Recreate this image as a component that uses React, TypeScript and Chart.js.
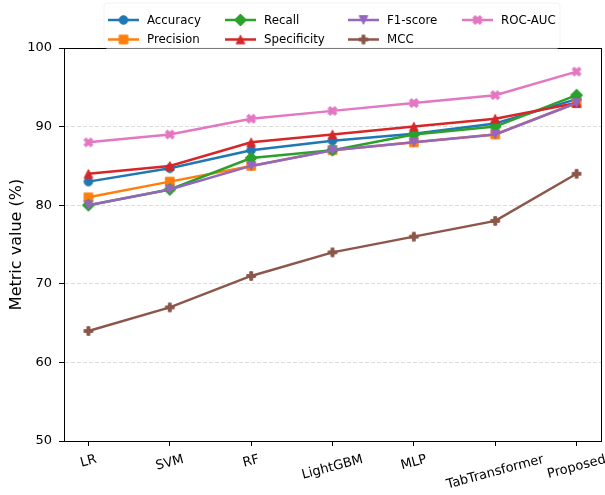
import React, { useEffect, useRef } from "react";
import { Chart, registerables } from "chart.js";

Chart.register(...registerables);

// ---- data ----
const categories = ["LR", "SVM", "RF", "LightGBM", "MLP", "TabTransformer", "Proposed"];
const accuracy = [83, 84.7, 87, 88.2, 89.1, 90.4, 93.5];
const precision = [81, 83, 85, 87, 88, 89, 93];
const recall = [80, 82, 86, 87, 89, 90, 94];
const specificity = [84, 85, 88, 89, 90, 91, 93];
const f1score = [80, 82, 85, 87, 88, 89, 93];
const mcc = [64, 67, 71, 74, 76, 78, 84];
const rocauc = [88, 89, 91, 92, 93, 94, 97];
const seriesNames = ["Accuracy", "Precision", "Recall", "Specificity", "F1-score", "MCC", "ROC-AUC"];
const yTickValues = [50, 60, 70, 80, 90, 100];
const yAxisTitle = "Metric value (%)";

// ---- styles ----
const seriesValues = [accuracy, precision, recall, specificity, f1score, mcc, rocauc];
const colors = ["#1f77b4", "#ff7f0e", "#2ca02c", "#d62728", "#9467bd", "#8c564b", "#e377c2"];
const markers = ["o", "s", "D", "^", "v", "P", "X"];
const FONT = "'DejaVu Sans', sans-serif";

function makeMarker(shape: string, color: string): HTMLCanvasElement {
  const S = 20;
  const c = document.createElement("canvas");
  c.width = S;
  c.height = S;
  const g = c.getContext("2d")!;
  g.translate(S / 2, S / 2);
  const m = 8.6;
  const h = m / 2;
  g.beginPath();
  const plus = (a: number, b: number) => {
    const pts = [
      [b, -a], [b, -b], [a, -b], [a, b], [b, b], [b, a],
      [-b, a], [-b, b], [-a, b], [-a, -b], [-b, -b], [-b, -a],
    ];
    pts.forEach((p, i) => (i === 0 ? g.moveTo(p[0], p[1]) : g.lineTo(p[0], p[1])));
    g.closePath();
  };
  switch (shape) {
    case "o":
      g.arc(0, 0, h, 0, Math.PI * 2);
      break;
    case "s":
      g.rect(-h, -h, m, m);
      break;
    case "D": {
      const d = h * Math.SQRT2;
      g.moveTo(0, -d);
      g.lineTo(d, 0);
      g.lineTo(0, d);
      g.lineTo(-d, 0);
      g.closePath();
      break;
    }
    case "^":
      g.moveTo(0, -h);
      g.lineTo(h, h);
      g.lineTo(-h, h);
      g.closePath();
      break;
    case "v":
      g.moveTo(0, h);
      g.lineTo(h, -h);
      g.lineTo(-h, -h);
      g.closePath();
      break;
    case "P":
      plus(h, m / 6);
      break;
    case "X":
      g.rotate(Math.PI / 4);
      plus(h * 1.1, m / 6);
      break;
  }
  g.fillStyle = color;
  g.fill();
  g.strokeStyle = color;
  g.lineWidth = 1;
  g.stroke();
  return c;
}

export default function App() {
  const ref = useRef<HTMLCanvasElement | null>(null);

  useEffect(() => {
    const canvas = ref.current;
    if (!canvas) return;
    const markerImgs = markers.map((mk, i) => makeMarker(mk, colors[i]));

    const datasets = seriesNames.map((name, i) => ({
      label: name,
      data: seriesValues[i].map((v, j) => ({ x: j, y: v })),
      borderColor: colors[i],
      backgroundColor: colors[i],
      borderWidth: 2.5,
      pointStyle: markerImgs[i] as any,
      pointRadius: 5,
      pointHoverRadius: 5,
      tension: 0,
      order: seriesNames.length - i,
    }));

    const decorPlugin = {
      id: "decor",
      afterDraw(chart: any) {
        const ctx = chart.ctx as CanvasRenderingContext2D;
        const a = chart.chartArea;
        const xs = chart.scales.x;
        ctx.save();
        // spines
        ctx.strokeStyle = "#000";
        ctx.lineWidth = 1;
        ctx.strokeRect(Math.round(a.left) + 0.5, Math.round(a.top) + 0.5, Math.round(a.right - a.left), Math.round(a.bottom - a.top));

        // x tick labels rotated 15°, centered on tick
        ctx.fillStyle = "#000";
        ctx.font = `13px ${FONT}`;
        ctx.textAlign = "center";
        ctx.textBaseline = "middle";
        const rot = (15 * Math.PI) / 180;
        const lh = 15;
        xs.ticks.forEach((t: any) => {
          const idx = Math.round(t.value);
          const label = categories[idx];
          if (label === undefined) return;
          const x = xs.getPixelForValue(t.value);
          const w = ctx.measureText(label).width;
          const H = w * Math.sin(rot) + lh * Math.cos(rot);
          const cy = a.bottom + 11 + H / 2;
          ctx.save();
          ctx.translate(x, cy);
          ctx.rotate(-rot);
          ctx.fillText(label, 0, 0);
          ctx.restore();
        });

        // legend box
        const bx = 104, by = 3, bw = 456, bh = 45;
        ctx.fillStyle = "rgba(255,255,255,0.97)";
        ctx.strokeStyle = "#f2f2f2";
        ctx.lineWidth = 1;
        ctx.beginPath();
        const r = 3;
        ctx.moveTo(bx + r, by);
        ctx.lineTo(bx + bw - r, by);
        ctx.quadraticCurveTo(bx + bw, by, bx + bw, by + r);
        ctx.lineTo(bx + bw, by + bh - r);
        ctx.quadraticCurveTo(bx + bw, by + bh, bx + bw - r, by + bh);
        ctx.lineTo(bx + r, by + bh);
        ctx.quadraticCurveTo(bx, by + bh, bx, by + bh - r);
        ctx.lineTo(bx, by + r);
        ctx.quadraticCurveTo(bx, by, bx + r, by);
        ctx.closePath();
        ctx.fill();
        ctx.stroke();

        const colX = [108, 225, 348, 462];
        const rowY = [20, 39.5];
        ctx.font = `11.8px ${FONT}`;
        ctx.textAlign = "left";
        ctx.textBaseline = "middle";
        seriesNames.forEach((name, i) => {
          const col = Math.floor(i / 2);
          const row = i % 2;
          const x0 = colX[col];
          const y0 = rowY[row];
          ctx.strokeStyle = colors[i];
          ctx.lineWidth = 2.5;
          ctx.beginPath();
          ctx.moveTo(x0, y0);
          ctx.lineTo(x0 + 31, y0);
          ctx.stroke();
          const img = markerImgs[i];
          ctx.drawImage(img, x0 + 15.5 - img.width / 2, y0 - img.height / 2);
          ctx.fillStyle = "#000";
          ctx.fillText(name, x0 + 39, y0 + 0.5);
        });
        ctx.restore();
      },
    };

    const chart = new Chart(canvas, {
      type: "line",
      data: { datasets: datasets as any },
      options: {
        animation: false,
        responsive: false,
        maintainAspectRatio: false,
        events: [],
        layout: { autoPadding: false, padding: { top: 48, right: 4, left: 0, bottom: 0 } },
        plugins: {
          legend: { display: false },
          tooltip: { enabled: false },
        },
        scales: {
          x: {
            type: "linear",
            min: -0.3,
            max: 6.3,
            afterFit: (s: any) => {
              s.height = 54;
            },
            ticks: { display: false, stepSize: 1, includeBounds: false },
            grid: {
              drawOnChartArea: false,
              drawTicks: true,
              tickLength: 5,
              tickColor: "#000",
              tickWidth: 1,
            },
            border: { display: true, color: "#000", width: 1 },
          },
          y: {
            type: "linear",
            min: yTickValues[0],
            max: yTickValues[yTickValues.length - 1],
            afterFit: (s: any) => {
              s.width = 64;
            },
            afterBuildTicks: (s: any) => {
              s.ticks = yTickValues.map((v) => ({ value: v }));
            },
            ticks: {
              stepSize: 10,
              padding: 7,
              color: "#000",
              font: { family: FONT, size: 13 },
            },
            grid: {
              color: "#d3d3d3",
              lineWidth: 0.8,
              tickLength: 5,
              tickColor: "#000",
              tickWidth: 1,
            },
            border: { display: true, dash: [4, 2], color: "#000", width: 1 },
            title: {
              display: true,
              text: yAxisTitle,
              color: "#000",
              font: { family: FONT, size: 16 },
              padding: { top: 7, bottom: 0 },
            },
          },
        },
      },
      plugins: [decorPlugin],
    });

    return () => chart.destroy();
  }, []);

  return (
    <div style={{ position: "absolute", left: 0, top: 0, width: 605, height: 495, background: "#fff" }}>
      <canvas ref={ref} width={605} height={495} style={{ display: "block", width: 605, height: 495 }} />
    </div>
  );
}
